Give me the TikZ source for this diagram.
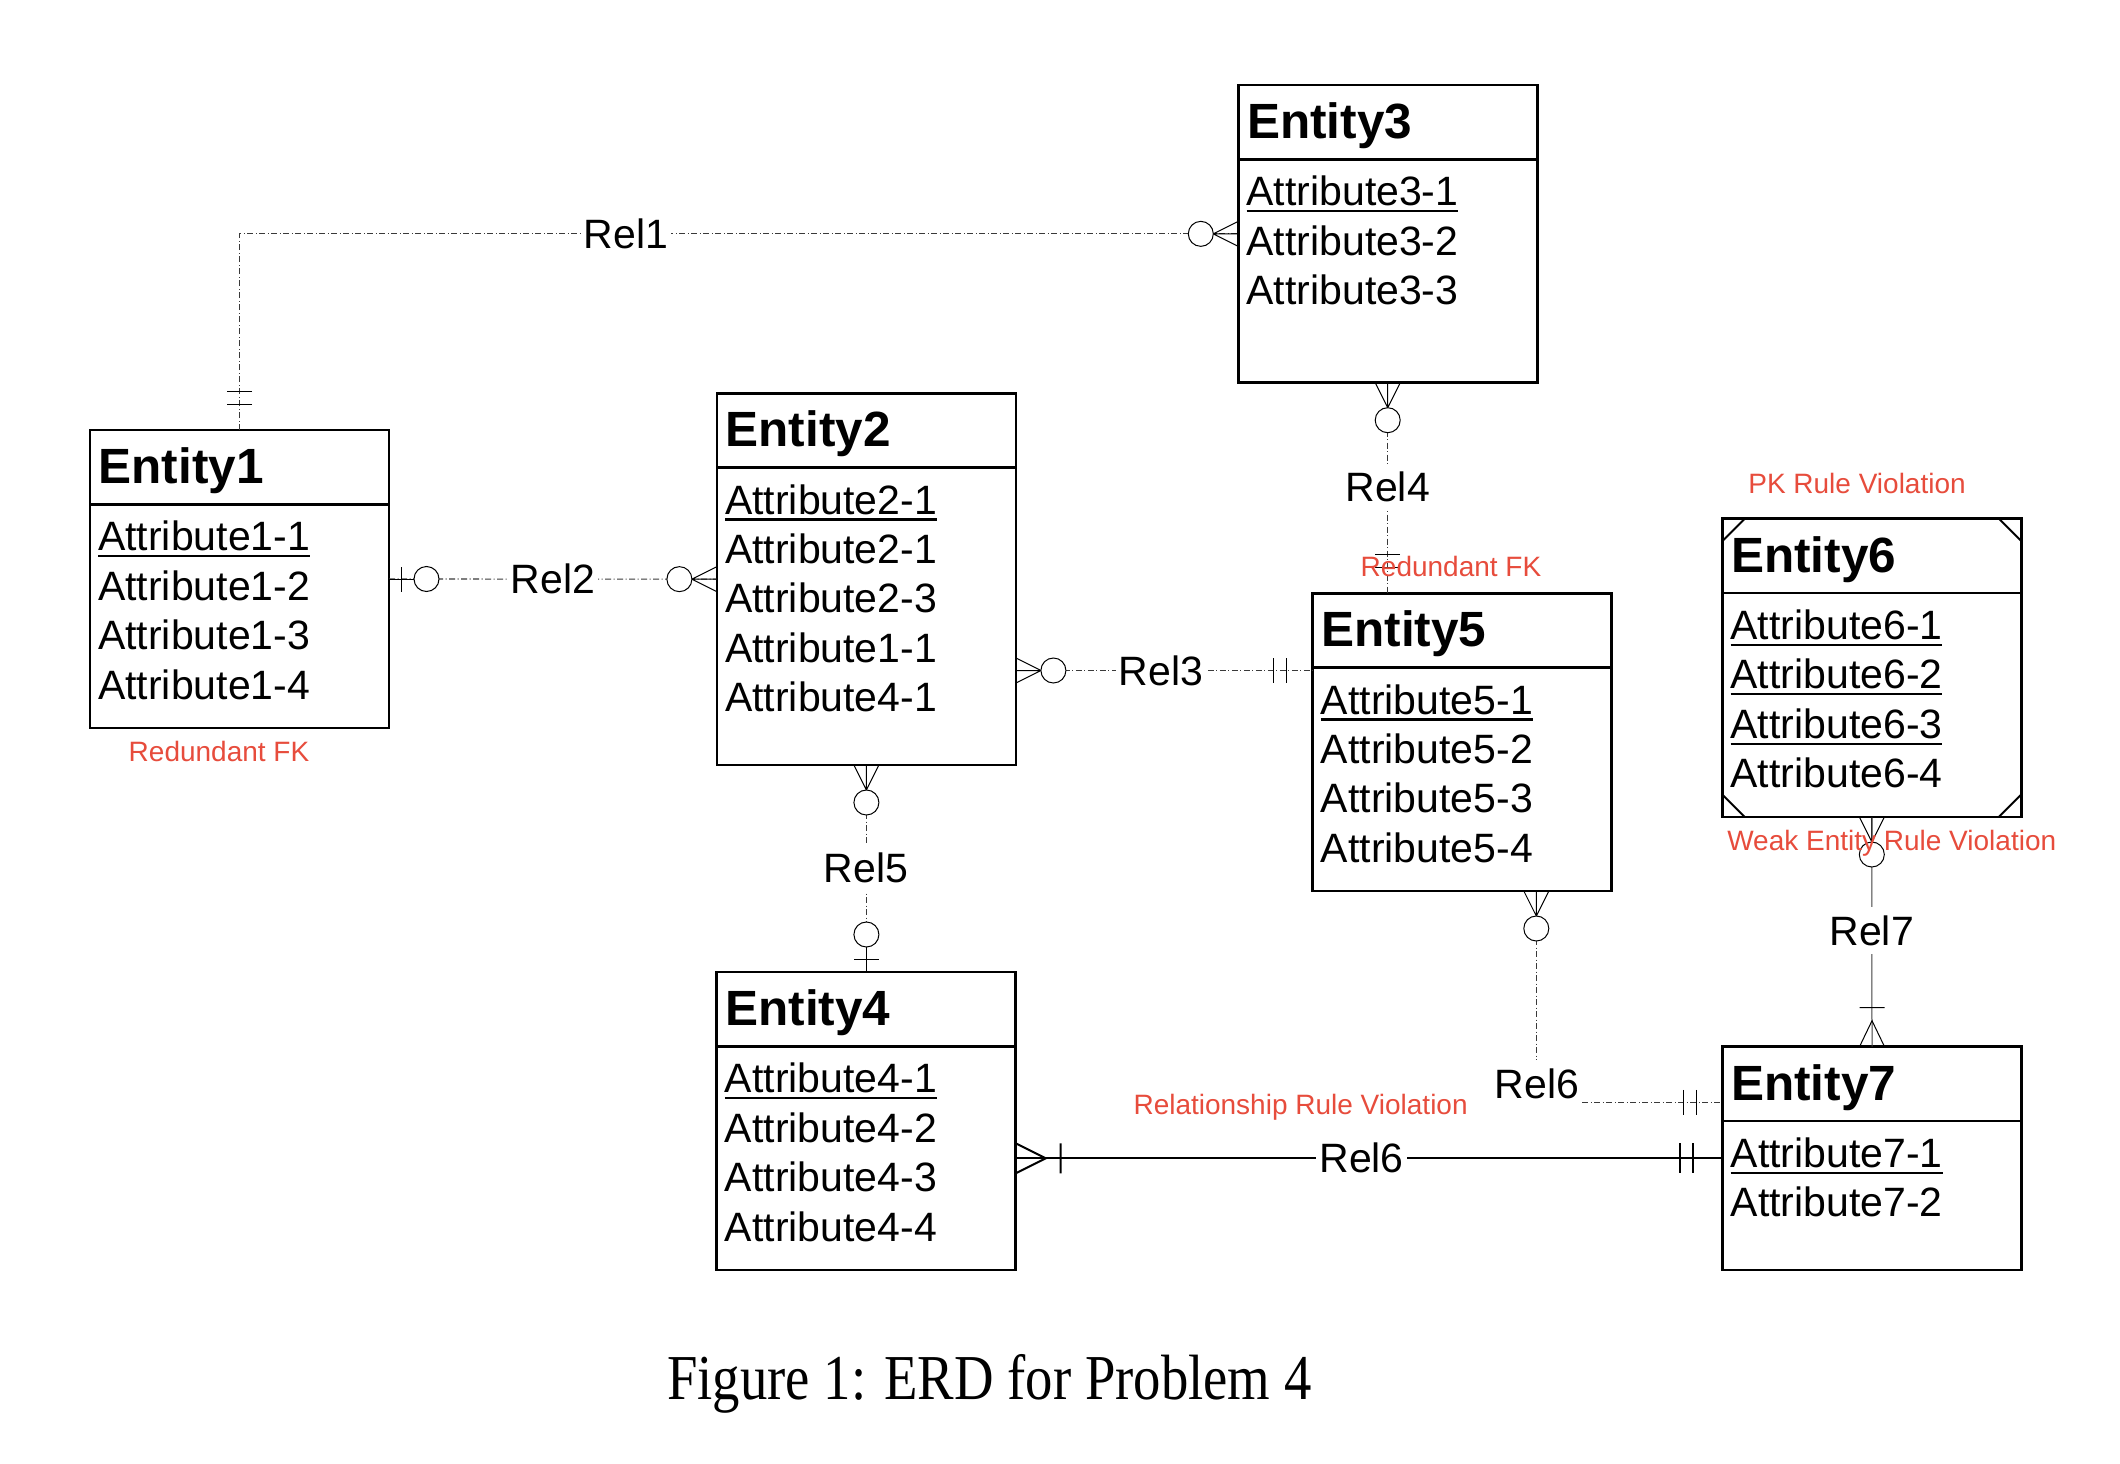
\documentclass[tikz,border=0pt]{standalone}
\usepackage{fontspec}
\setmainfont{Liberation Sans}
\newfontfamily\capfont[FakeStretch=0.855]{Liberation Serif}
\usetikzlibrary{calc}
\definecolor{violred}{HTML}{E74C3C}
\definecolor{relgray}{HTML}{3A3A3A}
\newcommand\pkul[1]{\setbox0=\hbox{#1}\rlap{\rule[-6.5pt]{\wd0}{2.2pt}}\box0}
\newcommand\entity[5]{%
  \node[entbox, minimum height=#4pt] (#1) at (#2,#3) {};
  \draw[divline] ($(#1.north west)+(0,74.3)$) -- ($(#1.north east)+(0,74.3)$);
  \node[ttl] (#1t) at ($(#1.north west)+(8.5,53.5)$) {#5};}
\newcommand\attr[3]{\node[att] (#1a#2) at ($(#1.north west)+(8,{120.8+49.4*(#2-1)})$) {#3};}
% cardinality symbols: local x points away from the entity
\newcommand\cZM[2]{\begin{scope}[shift={(#1)},rotate=#2]
  \draw[sym] (0,12.5) -- (25,0) -- (0,-12.5) (0,0) -- (25,0);
  \draw[sym,fill=white] (37.5,0) circle[radius=12.5];
\end{scope}}
\newcommand\cZO[2]{\begin{scope}[shift={(#1)},rotate=#2]
  \draw[sym] (0,0) -- (25,0) (12.5,12.5) -- (12.5,-12.5);
  \draw[sym,fill=white] (37.5,0) circle[radius=12.5];
\end{scope}}
\newcommand\cOO[2]{\begin{scope}[shift={(#1)},rotate=#2]
  \draw[sym] (26,12.5) -- (26,-12.5) (39,12.5) -- (39,-12.5);
\end{scope}}
\newcommand\cOM[2]{\begin{scope}[shift={(#1)},rotate=#2]
  \draw[sym] (0,12.5) -- (26,0) -- (0,-12.5) (39,12.5) -- (39,-12.5);
\end{scope}}
\newcommand\cOMb[2]{\begin{scope}[shift={(#1)},rotate=#2]
  \draw[symb] (0,15) -- (30,0) -- (0,-15) (45,15) -- (45,-15);
\end{scope}}
\newcommand\cOOb[2]{\begin{scope}[shift={(#1)},rotate=#2]
  \draw[symb] (30,15) -- (30,-15) (43,15) -- (43,-15);
\end{scope}}
\begin{document}
\begin{tikzpicture}[x=1pt,y=-1pt,
  entbox/.style={draw, line width=2.6pt, inner sep=0pt, outer sep=0pt, minimum width=299pt, anchor=north west},
  divline/.style={line width=2.6pt},
  ttl/.style={anchor=base west, inner sep=0pt, font=\fontsize{49.5}{59}\selectfont\bfseries},
  att/.style={anchor=base west, inner sep=0pt, font=\fontsize{41}{49}\selectfont},
  rellbl/.style={fill=white, inner xsep=3pt, inner ysep=1pt, text height=37pt, text depth=8pt, font=\fontsize{41}{49}\selectfont},
  redlbl/.style={anchor=base, inner sep=0pt, text=violred, font=\fontsize{28}{34}\selectfont},
  rel/.style={draw=relgray, line width=1.1pt, dash pattern=on 6pt off 2.5pt on 1pt off 2.5pt},
  relsolid/.style={draw=black, line width=2pt},
  relthin/.style={draw=black!75, line width=1pt},
  sym/.style={draw=black, line width=1pt},
  symb/.style={draw=black, line width=2pt},
  captxt/.style={anchor=base, inner sep=0pt, font=\capfont\fontsize{64}{76}\selectfont}]
\fill[white] (0,0) rectangle (2120,1464);
\useasboundingbox (0,0) rectangle (2120,1464);

% entities
\entity{e1}{90}{430}{298}{Entity1}
\attr{e1}{1}{\pkul{Attribute1-1}}
\attr{e1}{2}{Attribute1-2}
\attr{e1}{3}{Attribute1-3}
\attr{e1}{4}{Attribute1-4}

\entity{e2}{716.9}{393.3}{371.7}{Entity2}
\attr{e2}{1}{\pkul{Attribute2-1}}
\attr{e2}{2}{Attribute2-1}
\attr{e2}{3}{Attribute2-3}
\attr{e2}{4}{Attribute1-1}
\attr{e2}{5}{Attribute4-1}

\entity{e3}{1238.3}{85}{297.7}{Entity3}
\attr{e3}{1}{\pkul{Attribute3-1}}
\attr{e3}{2}{Attribute3-2}
\attr{e3}{3}{Attribute3-3}

\entity{e4}{716.7}{972}{298}{Entity4}
\attr{e4}{1}{\pkul{Attribute4-1}}
\attr{e4}{2}{Attribute4-2}
\attr{e4}{3}{Attribute4-3}
\attr{e4}{4}{Attribute4-4}

\entity{e5}{1312.7}{593.3}{297.7}{Entity5}
\attr{e5}{1}{\pkul{Attribute5-1}}
\attr{e5}{2}{Attribute5-2}
\attr{e5}{3}{Attribute5-3}
\attr{e5}{4}{Attribute5-4}

\entity{e6}{1722.3}{518.6}{298.4}{Entity6}
\attr{e6}{1}{\pkul{Attribute6-1}}
\attr{e6}{2}{\pkul{Attribute6-2}}
\attr{e6}{3}{\pkul{Attribute6-3}}
\attr{e6}{4}{Attribute6-4}
\draw[line width=2pt] ($(e6.north west)+(0,22.5)$) -- ($(e6.north west)+(22.5,0)$)
  ($(e6.north east)+(0,22.5)$) -- ($(e6.north east)+(-22.5,0)$)
  ($(e6.south west)+(0,-22.5)$) -- ($(e6.south west)+(22.5,0)$)
  ($(e6.south east)+(0,-22.5)$) -- ($(e6.south east)+(-22.5,0)$);

\entity{e7}{1722.5}{1046.7}{223.3}{Entity7}
\attr{e7}{1}{\pkul{Attribute7-1}}
\attr{e7}{2}{Attribute7-2}

% connector coordinates
\coordinate (h3) at (0,670.5);
\coordinate (r3a) at (e2.east |- h3);
\coordinate (r3b) at (e5.west |- h3);
\coordinate (v4) at (1387.7,0);
\coordinate (r4a) at (v4 |- e3.south);
\coordinate (r4b) at (v4 |- e5.north);
\coordinate (r5b) at (e2.south |- e4.north);
\coordinate (v6) at (1536.3,0);
\coordinate (h6) at (0,1102.3);
\coordinate (r6a) at (v6 |- e5.south);
\coordinate (r6b) at (e7.west |- h6);
\coordinate (h6s) at (0,1158.3);
\coordinate (r6sa) at (e4.east |- h6s);
\coordinate (r6sb) at (e7.west |- h6s);

% connectors
\draw[rel] (e1.north) |- (e3.west);
\draw[rel] (e1.east) -- (e2.west);
\draw[rel] (r3a) -- (r3b);
\draw[rel] (r4a) -- (r4b);
\draw[rel] (e2.south) -- (r5b);
\draw[relsolid] (r6sa) -- (r6sb);
\draw[relthin] (e6.south) -- (e7.north);

% relationship labels
\node[rellbl] (r1lbl) at (626,234) {Rel1};
\node[rellbl] (r2lbl) at (553,579.2) {Rel2};
\node[rellbl] (r3lbl) at (1161,670.5) {Rel3};
\node[rellbl] (r4lbl) at (1387.7,487) {Rel4};
\node[rellbl] (r5lbl) at (866,867.5) {Rel5};
\node[rellbl] (r6lbl) at (1537,1084) {Rel6};
\node[rellbl] (r6slbl) at (1361.6,1158.3) {Rel6};
\node[rellbl] (r7lbl) at (1871.7,930.5) {Rel7};

\draw[rel] (r6a) -- (r6lbl.north -| r6a);
\draw[rel] (r6lbl.east |- h6) -- (r6b);

% cardinalities
\cOO{e1.north}{90}
\cZM{e3.west}{180}
\cZO{e1.east}{0}
\cZM{e2.west}{180}
\cZM{r3a}{0}
\cOO{r3b}{180}
\cZM{r4a}{-90}
\cOO{r4b}{90}
\cZM{e2.south}{-90}
\cZO{r5b}{90}
\cZM{r6a}{-90}
\cOO{r6b}{180}
\cOMb{r6sa}{0}
\cOOb{r6sb}{180}
\cZM{e6.south}{-90}
\cOM{e7.north}{90}

% annotations
\node[redlbl] (n1) at (1857,493.7) {PK Rule Violation};
\node[redlbl] (n2) at (1451,576.7) {Redundant FK};
\node[redlbl] (n3) at (219,761.7) {Redundant FK};
\node[redlbl] (n4) at (1891.7,850) {Weak Entity Rule Violation};
\node[redlbl] (n5) at (1300.6,1114) {Relationship Rule Violation};

% caption
\node[captxt] (cap) at (989.3,1399) {Figure 1: ERD for Problem 4};
\end{tikzpicture}
\end{document}
